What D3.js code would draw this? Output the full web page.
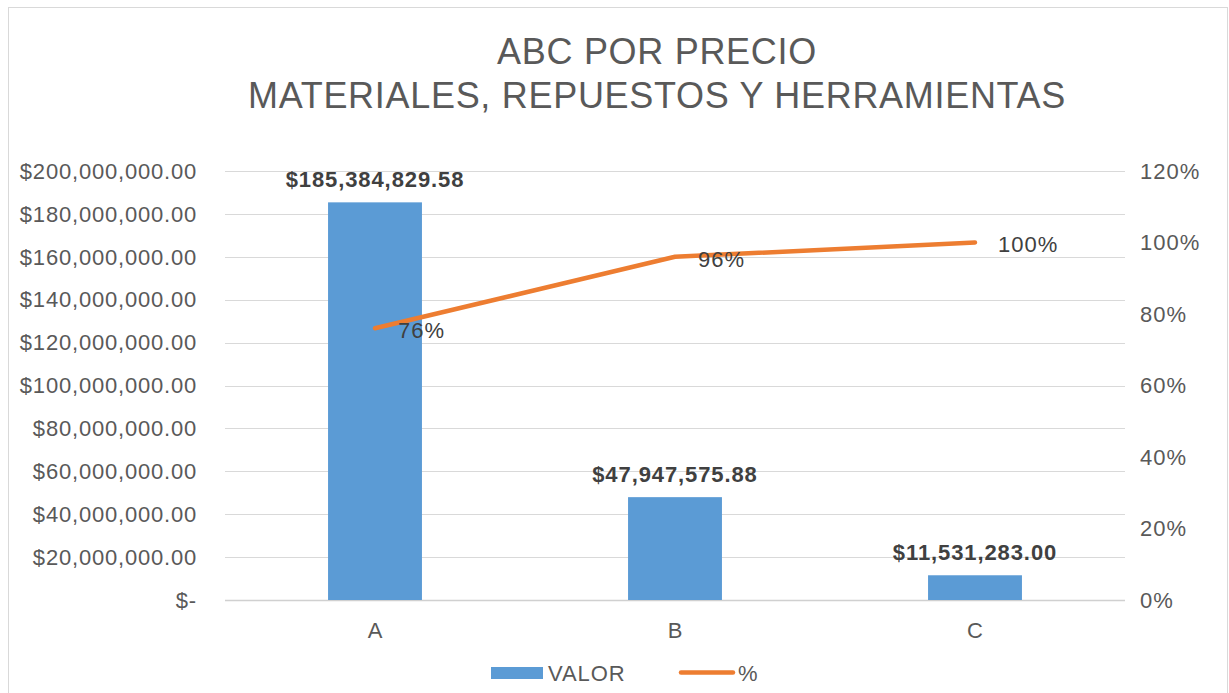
<!DOCTYPE html>
<html>
<meta charset="utf-8">
<script src="https://d3js.org/d3.v7.min.js"></script>
<style>
  body { margin: 0; background: #fff; }
  text { font-family: Arial, "Liberation Sans", sans-serif; }
</style>
<body>
<div id="vis"></div>
<script>
  // data
  var categories = ["A", "B", "C"];
  var valores = [185384829.58, 47947575.88, 11531283.00];
  var porcentajes = [0.76, 0.96, 1.00];
  var leftTicks = [0, 20e6, 40e6, 60e6, 80e6, 100e6, 120e6, 140e6, 160e6, 180e6, 200e6];
  var rightTicks = [0, 0.2, 0.4, 0.6, 0.8, 1.0, 1.2];
  var titleLines = ["ABC POR PRECIO", "MATERIALES, REPUESTOS Y HERRAMIENTAS"];

  var total_width = 1229, total_height = 693;
  var plot = {left: 225, right: 1125, top: 171, bottom: 600};

  var svg = d3.select("#vis").append("svg")
    .attr("width", total_width)
    .attr("height", total_height);

  // chart border
  svg.append("rect")
    .attr("x", 8.5).attr("y", 7.5)
    .attr("width", 1219).attr("height", 700)
    .attr("fill", "#fff")
    .attr("stroke", "#d9d9d9");

  // title
  svg.append("g").selectAll("text")
    .data(titleLines)
    .join("text")
      .attr("x", 657)
      .attr("y", function(d, i) { return 64 + i * 44; })
      .attr("text-anchor", "middle")
      .attr("fill", "#595959")
      .style("font-size", "36px")
      .style("letter-spacing", "0.7px")
      .text(function(d) { return d; });

  var x_scale = d3.scaleBand()
    .domain(categories)
    .range([plot.left, plot.right])
    .paddingInner(0.687)
    .paddingOuter(0.3435);
  var xc = d3.scaleBand().domain(categories).range([plot.left, plot.right]);

  var y_left = d3.scaleLinear().domain([0, 200e6]).range([plot.bottom, plot.top]);
  var y_right = d3.scaleLinear().domain([0, 1.2]).range([plot.bottom, plot.top]);

  // gridlines
  svg.append("g").selectAll("line")
    .data(leftTicks)
    .join("line")
      .attr("x1", plot.left).attr("x2", plot.right)
      .attr("y1", function(d) { return Math.round(y_left(d)) + 0.5; })
      .attr("y2", function(d) { return Math.round(y_left(d)) + 0.5; })
      .attr("stroke", function(d) { return d === 0 ? "#d0d0d0" : "#d9d9d9"; })
      .attr("stroke-width", function(d) { return d === 0 ? 1.5 : 1; });

  // left axis labels
  var fmtMoney = d3.format(",.2f");
  svg.append("g").selectAll("text")
    .data(leftTicks)
    .join("text")
      .attr("x", 197)
      .attr("y", function(d) { return y_left(d); })
      .attr("dy", "0.35em")
      .attr("text-anchor", "end")
      .attr("fill", "#595959")
      .style("font-size", "22px")
      .style("letter-spacing", "0.8px")
      .text(function(d) { return d === 0 ? "$-" : "$" + fmtMoney(d); });

  // right axis labels
  svg.append("g").selectAll("text")
    .data(rightTicks)
    .join("text")
      .attr("x", 1140)
      .attr("y", function(d) { return y_right(d); })
      .attr("dy", "0.35em")
      .attr("fill", "#595959")
      .style("font-size", "22px")
      .style("letter-spacing", "1px")
      .text(function(d) { return Math.round(d * 100) + "%"; });

  // category labels
  svg.append("g").selectAll("text")
    .data(categories)
    .join("text")
      .attr("x", function(d) { return xc(d) + xc.bandwidth() / 2; })
      .attr("y", 638)
      .attr("text-anchor", "middle")
      .attr("fill", "#595959")
      .style("font-size", "22px")
      .text(function(d) { return d; });

  // bars
  svg.append("g").selectAll("rect")
    .data(valores)
    .join("rect")
      .attr("x", function(d, i) { return x_scale(categories[i]); })
      .attr("y", function(d) { return y_left(d); })
      .attr("width", x_scale.bandwidth())
      .attr("height", function(d) { return plot.bottom - y_left(d); })
      .attr("fill", "#5b9bd5");

  // bar labels
  svg.append("g").selectAll("text")
    .data(valores)
    .join("text")
      .attr("x", function(d, i) { return xc(categories[i]) + xc.bandwidth() / 2; })
      .attr("y", function(d) { return y_left(d) - 15; })
      .attr("text-anchor", "middle")
      .attr("fill", "#404040")
      .style("font-size", "22px")
      .style("letter-spacing", "0.9px")
      .style("font-weight", "bold")
      .text(function(d) { return "$" + fmtMoney(d); });

  // cumulative % line
  var line = d3.line()
    .x(function(d, i) { return xc(categories[i]) + xc.bandwidth() / 2; })
    .y(function(d) { return y_right(d); });
  svg.append("path")
    .datum(porcentajes)
    .attr("d", line)
    .attr("fill", "none")
    .attr("stroke", "#ed7d31")
    .attr("stroke-width", 4.5)
    .attr("stroke-linecap", "round")
    .attr("stroke-linejoin", "round");

  svg.append("g").selectAll("text")
    .data(porcentajes)
    .join("text")
      .attr("x", function(d, i) { return xc(categories[i]) + xc.bandwidth() / 2 + 23; })
      .attr("y", function(d) { return y_right(d) + 2; })
      .attr("dy", "0.35em")
      .attr("fill", "#404040")
      .style("font-size", "22px")
      .style("letter-spacing", "1px")
      .text(function(d) { return Math.round(d * 100) + "%"; });

  // legend
  var legend = svg.append("g");
  legend.append("rect")
    .attr("x", 491).attr("y", 667).attr("width", 52).attr("height", 12)
    .attr("fill", "#5b9bd5");
  legend.append("text")
    .attr("x", 548).attr("y", 673).attr("dy", "0.35em")
    .attr("fill", "#595959").style("font-size", "22px")
    .style("letter-spacing", "0.9px")
    .text("VALOR");
  legend.append("line")
    .attr("x1", 681).attr("x2", 733).attr("y1", 672.5).attr("y2", 672.5)
    .attr("stroke", "#ed7d31").attr("stroke-width", 4.5)
    .attr("stroke-linecap", "round");
  legend.append("text")
    .attr("x", 738).attr("y", 673).attr("dy", "0.35em")
    .attr("fill", "#595959").style("font-size", "22px")
    .text("%");
</script>
</body>
</html>
